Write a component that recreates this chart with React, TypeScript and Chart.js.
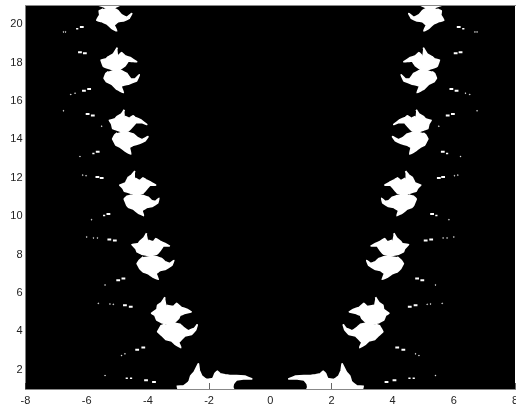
import React, { useEffect, useRef } from "react";
import { Chart, registerables } from "chart.js";

Chart.register(...registerables);

type P = [number, number];

const xTicks = [-8, -6, -4, -2, 0, 2, 4, 6, 8];
const yTicks = [2, 4, 6, 8, 10, 12, 14, 16, 18, 20];

const topSliver: P[] = [[-5.63,21.3],[-5.63,21.0],[-5.47,20.93],[-5.34,20.85],[-5.24,20.83],[-5.07,20.88],[-4.91,21.0],[-4.91,21.3]];
const blob20: P[] = [[-5.35,20.86],[-5.11,20.83],[-4.97,20.69],[-4.86,20.48],[-4.69,20.35],[-4.53,20.55],[-4.61,20.31],[-4.80,20.17],[-4.97,20.14],[-5.11,19.96],[-5.02,19.65],[-5.18,19.79],[-5.35,20.03],[-5.51,20.14],[-5.67,20.21],[-5.57,20.48],[-5.59,20.69],[-5.46,20.79]];
const blob18: P[] = [[-5.0,18.78],[-5.13,18.44],[-5.29,18.30],[-5.37,18.18],[-5.53,18.13],[-5.46,17.83],[-5.35,17.74],[-5.13,17.62],[-4.91,17.66],[-4.75,17.83],[-4.64,18.09],[-4.37,18.04],[-4.58,18.26],[-4.75,18.35],[-4.86,18.52],[-4.97,18.35]];
const blob17: P[] = [[-5.13,17.62],[-4.86,17.57],[-4.69,17.43],[-4.56,17.14],[-4.42,17.14],[-4.28,17.36],[-4.37,17.05],[-4.64,16.88],[-4.89,16.79],[-4.80,16.44],[-5.02,16.62],[-5.18,16.88],[-5.35,17.0],[-5.43,17.19],[-5.37,17.43],[-5.29,17.53]];
const blob15: P[] = [[-4.77,15.54],[-4.86,15.32],[-5.0,15.19],[-5.08,15.06],[-5.26,14.99],[-5.18,14.80],[-5.15,14.57],[-5.02,14.50],[-4.86,14.40],[-4.64,14.45],[-4.53,14.62],[-4.39,14.88],[-4.20,14.88],[-4.04,14.78],[-4.24,15.02],[-4.42,15.14],[-4.48,15.23],[-4.61,15.09],[-4.75,15.19]];
const blob14: P[] = [[-4.86,14.40],[-4.64,14.36],[-4.48,14.28],[-4.35,14.10],[-4.20,13.98],[-4.0,14.14],[-4.09,13.93],[-4.28,13.79],[-4.48,13.70],[-4.61,13.58],[-4.56,13.24],[-4.75,13.41],[-4.89,13.58],[-5.04,13.70],[-5.15,14.02],[-5.08,14.23],[-5.0,14.33]];
const blob12: P[] = [[-4.42,12.35],[-4.53,12.14],[-4.64,12.02],[-4.73,11.73],[-4.92,11.62],[-4.81,11.45],[-4.77,11.31],[-4.58,11.21],[-4.37,11.10],[-4.15,11.21],[-4.04,11.42],[-3.93,11.62],[-3.75,11.62],[-3.90,11.76],[-4.07,11.90],[-4.16,12.00],[-4.26,11.85],[-4.42,11.97]];
const blob11: P[] = [[-4.37,11.10],[-4.15,11.07],[-3.99,10.98],[-3.88,10.81],[-3.75,10.76],[-3.64,10.93],[-3.68,10.69],[-3.86,10.51],[-4.04,10.46],[-4.20,10.29],[-4.14,10.03],[-4.31,10.17],[-4.48,10.38],[-4.62,10.46],[-4.69,10.58],[-4.77,10.90],[-4.69,11.03],[-4.53,11.10]];
const blob9: P[] = [[-4.04,9.11],[-4.13,8.87],[-4.26,8.69],[-4.31,8.57],[-4.52,8.52],[-4.39,8.31],[-4.35,8.14],[-4.20,8.03],[-3.93,7.93],[-3.71,8.03],[-3.60,8.22],[-3.50,8.45],[-3.30,8.45],[-3.44,8.57],[-3.60,8.69],[-3.74,8.83],[-3.82,8.66],[-3.99,8.74]];
const blob8: P[] = [[-3.93,7.93],[-3.71,7.88],[-3.55,7.79],[-3.44,7.62],[-3.28,7.53],[-3.15,7.69],[-3.22,7.44],[-3.44,7.23],[-3.60,7.18],[-3.74,7.01],[-3.66,6.71],[-3.84,6.84],[-3.99,7.01],[-4.15,7.10],[-4.26,7.27],[-4.35,7.53],[-4.28,7.70],[-4.15,7.88]];
const blob5: P[] = [[-3.44,5.78],[-3.55,5.50],[-3.68,5.36],[-3.70,5.15],[-3.88,4.94],[-3.77,4.84],[-3.71,4.60],[-3.55,4.46],[-3.33,4.37],[-3.11,4.50],[-3.0,4.67],[-2.95,4.84],[-2.81,4.94],[-2.59,5.02],[-2.73,5.15],[-2.90,5.24],[-3.06,5.46],[-3.17,5.29],[-3.39,5.36]];
const blob4: P[] = [[-3.33,4.37],[-3.11,4.42],[-2.95,4.37],[-2.84,4.20],[-2.68,4.03],[-2.48,4.15],[-2.39,4.34],[-2.44,4.08],[-2.57,3.85],[-2.79,3.77],[-2.88,3.63],[-3.0,3.42],[-2.92,3.16],[-3.11,3.33],[-3.22,3.51],[-3.42,3.59],[-3.55,3.80],[-3.68,3.98],[-3.60,4.20],[-3.57,4.29],[-3.44,4.37]];
const blobBase: P[] = [[-3.0,0.95],[-3.04,1.15],[-2.84,1.15],[-2.73,1.27],[-2.65,1.39],[-2.60,1.67],[-2.49,1.87],[-2.35,2.31],[-2.32,1.96],[-2.24,1.67],[-2.08,1.49],[-1.88,1.53],[-1.81,1.79],[-1.73,1.93],[-1.64,1.79],[-1.48,1.74],[-1.32,1.70],[-1.10,1.70],[-0.83,1.67],[-0.61,1.53],[-0.88,1.53],[-1.10,1.48],[-1.21,1.27],[-1.23,1.09],[-1.19,0.95]];

const leftBlobs: P[][] = [topSliver, blob20, blob18, blob17, blob15, blob14, blob12, blob11, blob9, blob8, blob5, blob4, blobBase];

const largeSpecks: P[] = [[-6.16,19.86],[-6.22,18.54],[-6.06,18.49],[-5.92,16.62],[-6.09,16.53],[-5.97,15.32],[-5.80,15.25],[-5.64,13.36],[-5.65,12.04],[-5.51,11.99],[-5.29,10.12],[-5.26,8.79],[-5.08,8.74],[-4.80,6.76],[-4.97,6.66],[-4.75,5.36],[-4.56,5.29],[-4.15,3.16],[-4.35,3.04],[-4.06,1.46],[-3.80,1.37]];
const mediumSpecks: P[] = [[-6.31,19.76],[-5.78,13.27],[-5.43,10.04],[-4.69,1.56],[-4.55,1.56]];
const tinySpecks: P[] = [[-6.69,19.60],[-6.76,19.60],[-6.38,16.41],[-6.52,16.34],[-6.76,15.49],[-5.51,14.69],[-6.22,13.11],[-6.13,12.14],[-6.02,12.11],[-5.84,9.82],[-6.0,8.92],[-5.78,8.87],[-5.65,8.87],[-5.40,6.42],[-5.24,5.43],[-5.13,5.41],[-5.62,5.46],[-4.75,2.83],[-4.86,2.74],[-5.40,1.70]];

const bottomBand: P[] = [[-2.95,1.03],[-1.25,1.03]];
const topBand: P[] = [[-5.63,20.99],[-4.91,20.99]];

const left = (pts: P[]) => pts.map(([x, y]) => ({ x, y }));
const right = (pts: P[]) => pts.map(([x, y]) => ({ x: -x, y }));

const blackArea = {
  id: "blackArea",
  beforeDatasetsDraw(chart: any) {
    const { ctx, chartArea } = chart;
    ctx.save();
    ctx.fillStyle = "#000";
    ctx.fillRect(chartArea.left, chartArea.top, chartArea.width, chartArea.height);
    ctx.restore();
  },
};

export default function App() {
  const ref = useRef<HTMLCanvasElement>(null);
  useEffect(() => {
    const shape = (data: any[]) => ({
      data,
      showLine: true,
      fill: "shape",
      backgroundColor: "#fff",
      borderColor: "#fff",
      borderWidth: 1.8,
      borderJoinStyle: "round",
      pointRadius: 0,
      tension: 0.01,
    });
    const specks = (data: any[], r: number, w: number, style: string) => ({
      data,
      showLine: false,
      pointStyle: style,
      pointRadius: r,
      pointBorderWidth: w,
      pointBorderColor: "#fff",
      pointBackgroundColor: "#fff",
    });
    const band = (data: any[]) => ({
      data,
      showLine: true,
      fill: false,
      borderColor: "#aaa",
      borderWidth: 1.2,
      pointRadius: 0,
    });
    const datasets: any[] = [
      ...leftBlobs.map((b) => shape(left(b))),
      ...leftBlobs.map((b) => shape(right(b))),
      specks([...left(largeSpecks), ...right(largeSpecks)], 1.9, 2, "line"),
      specks([...left(mediumSpecks), ...right(mediumSpecks)], 1.1, 1.5, "line"),
      specks([...left(tinySpecks), ...right(tinySpecks)], 0.5, 0.4, "circle"),
      band(left(bottomBand)),
      band(right(bottomBand)),
      band(left(topBand)),
      band(right(topBand)),
    ];
    const font = { family: "'Liberation Sans', Arial, sans-serif", size: 11 };
    const chart = new Chart(ref.current as HTMLCanvasElement, {
      type: "scatter",
      data: { datasets },
      plugins: [blackArea],
      options: {
        animation: false,
        responsive: false,
        devicePixelRatio: 1,
        layout: { autoPadding: false, padding: { top: 5, right: 1, left: 0, bottom: 0 } },
        plugins: { legend: { display: false }, tooltip: { enabled: false } },
        scales: {
          x: {
            type: "linear",
            position: "bottom",
            min: -8,
            max: 8,
            afterBuildTicks: (s: any) => { s.ticks = xTicks.map((value) => ({ value })); },
            afterFit: (s: any) => { s.height = 21; s.paddingLeft = 0; s.paddingRight = 0; },
            ticks: { color: "#222", font, padding: 11, maxRotation: 0, autoSkip: false, callback: (v: any) => String(v) },
            grid: { drawOnChartArea: false, drawTicks: true, tickLength: -6, color: "rgba(0,0,0,0.6)", z: 1 },
            border: { display: true, color: "#888", dash: [1, 2], width: 1, z: 1 },
          },
          x2: {
            type: "linear",
            position: "top",
            min: -8,
            max: 8,
            afterFit: (s: any) => { s.height = 0; s.paddingLeft = 0; s.paddingRight = 0; },
            ticks: { display: false },
            grid: { display: false, drawTicks: false },
            border: { display: true, color: "#888", dash: [1, 2], width: 1, z: 1 },
          },
          y: {
            type: "linear",
            position: "left",
            min: 1,
            max: 21,
            afterBuildTicks: (s: any) => { s.ticks = yTicks.map((value) => ({ value })); },
            afterFit: (s: any) => { s.width = 25.5; s.paddingTop = 0; s.paddingBottom = 0; },
            ticks: { color: "#222", font, padding: 3, autoSkip: false, callback: (v: any) => String(v) },
            grid: { display: false, drawTicks: false },
            border: { display: false },
          },
        },
      } as any,
    });
    return () => chart.destroy();
  }, []);
  return (
    <div style={{ position: "absolute", left: 0, top: 0, width: 516, height: 410, overflow: "hidden" }}>
      <canvas ref={ref} width={516} height={410} style={{ display: "block", filter: "blur(0.4px)" }} />
    </div>
  );
}
